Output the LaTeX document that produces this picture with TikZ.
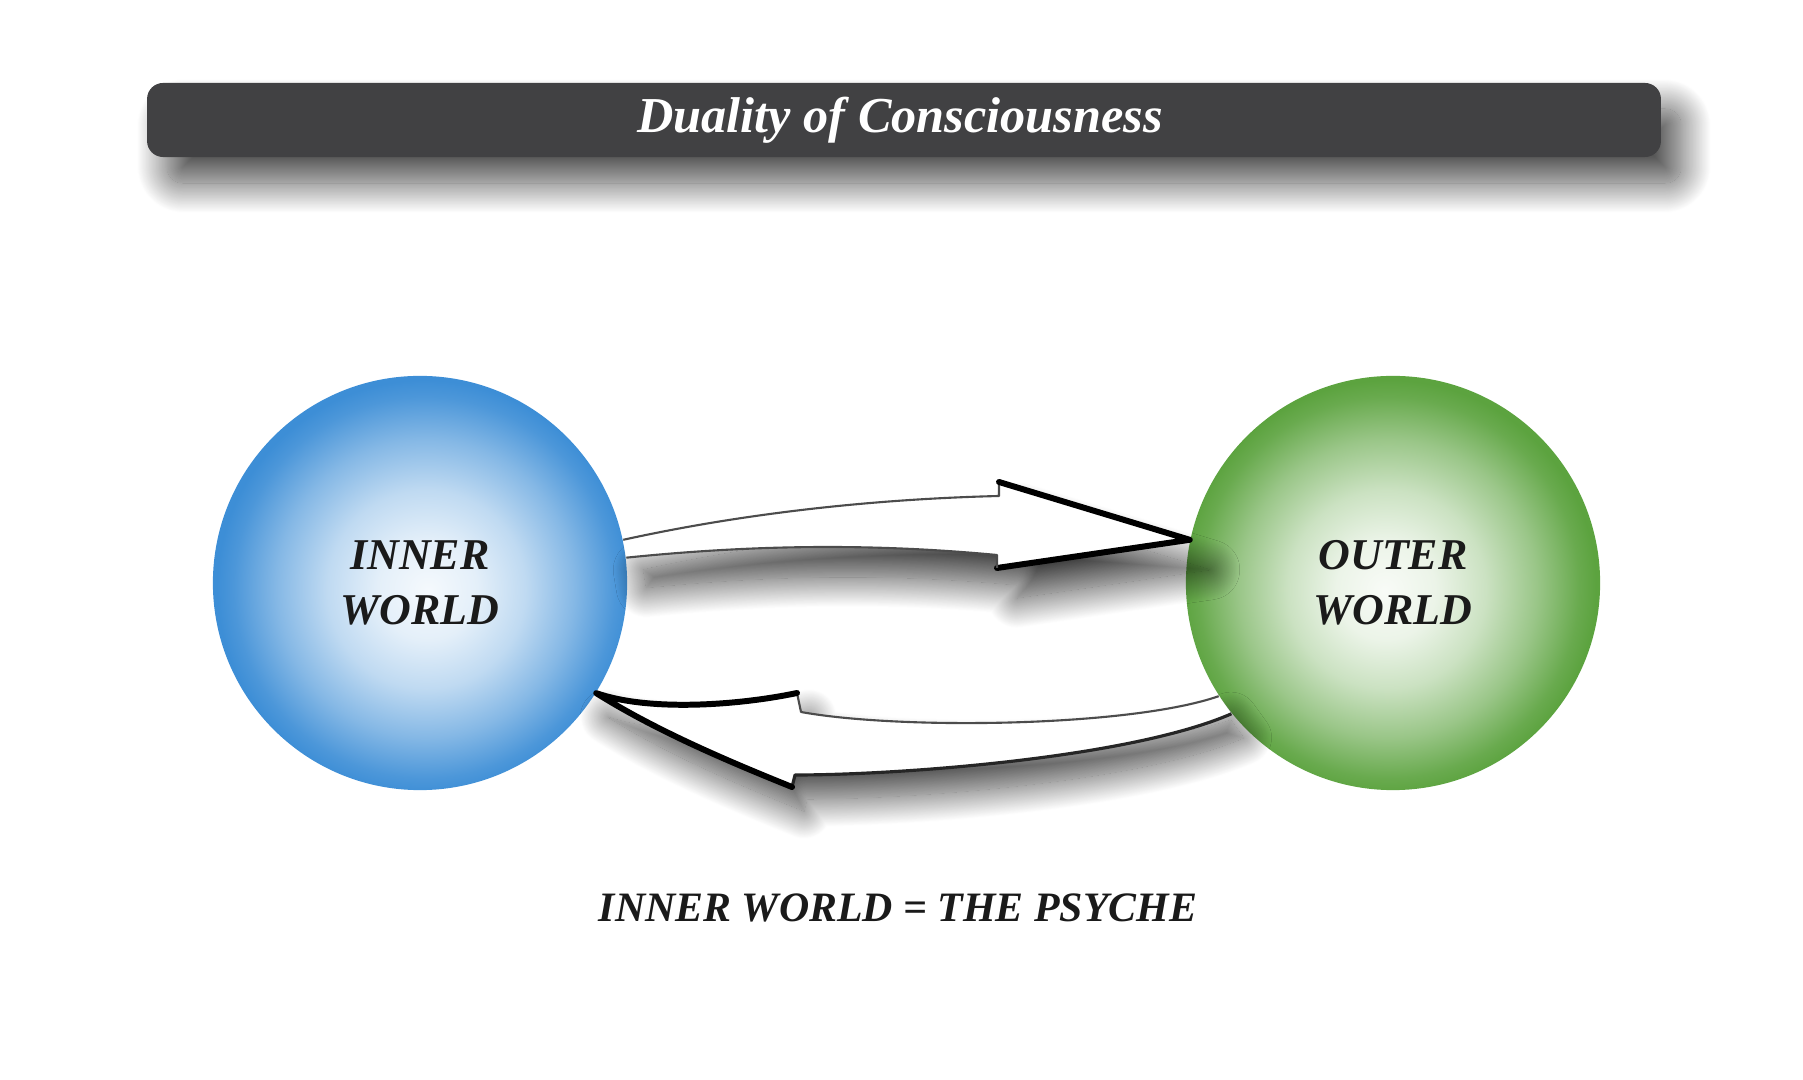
\documentclass[tikz,border=0pt]{standalone}
\usepackage{fontspec}
\setmainfont{Liberation Serif}
\usetikzlibrary{shadows.blur}
\definecolor{barc}{HTML}{414143}
\definecolor{bluec}{HTML}{3D8ED6}
\definecolor{greenc}{HTML}{5CA33F}
\definecolor{inkc}{HTML}{1A1A1A}
\pgfdeclareradialshading{blueball}{\pgfpoint{1bp}{-1bp}}{color(0bp)=(bluec!5!white); color(6bp)=(bluec!14!white); color(12bp)=(bluec!33!white); color(18bp)=(bluec!63!white); color(23bp)=(bluec!92!white); color(25bp)=(bluec); color(50bp)=(bluec)}
\pgfdeclareradialshading{greenball}{\pgfpoint{-1bp}{-1bp}}{color(0bp)=(greenc!4!white); color(6bp)=(greenc!12!white); color(12bp)=(greenc!32!white); color(18bp)=(greenc!62!white); color(23bp)=(greenc!92!white); color(25bp)=(greenc); color(50bp)=(greenc)}
\tikzset{
  ball/.style={circle, minimum size=4.14cm, inner sep=0pt, align=center, text=inkc,
    font=\fontsize{12.5}{15.6}\selectfont\bfseries\itshape},
  thinedge/.style={draw=black!70, line width=0.6pt, line join=round},
  thickedge/.style={draw=black, line width=1.7pt, line join=round, line cap=round},
  midedge/.style={draw=black!85, line width=0.9pt, line join=round},
}
\begin{document}
\begin{tikzpicture}[x=0.01cm, y=-0.01cm]
\useasboundingbox (0,0) rectangle (1803,1080);

% title bar
\node[fill=barc, rounded corners=0.16cm, minimum width=15.13cm, minimum height=0.74cm, inner sep=0pt,
  blur shadow={shadow xshift=0.2cm, shadow yshift=-0.26cm, shadow blur radius=0.3cm, shadow blur steps=40, shadow opacity=70}] (bar) at (904,120) {};
\node[anchor=base, text=white, inner sep=0pt, font=\fontsize{14.3}{17}\selectfont\bfseries\itshape] (title) at (900,133) {Duality of Consciousness};

% circles
\node[ball, shade, shading=blueball] (inner) at (420,583) {INNER\\WORLD};
\node[ball, shade, shading=greenball] (outer) at (1393,583) {OUTER\\WORLD};

% top arrow (inner -> outer)
\coordinate (a1t1) at (inner.12.8);
\coordinate (a1t2) at (inner.7.2);
\coordinate (a1s1) at (999,496);
\coordinate (a1h1) at (999,482);
\coordinate (a1tip) at (outer.168.6);
\coordinate (a1h2) at (997,568);
\coordinate (a1s2) at (997,555);
\fill[white, blur shadow={shadow xshift=0.2cm, shadow yshift=-0.3cm, shadow blur radius=0.3cm, shadow blur steps=40, shadow opacity=75}]
  (a1t1) .. controls (745,513) and (875,499) .. (a1s1) -- (a1h1) -- (a1tip) -- (a1h2) -- (a1s2)
  .. controls (870,543) and (750,545) .. (a1t2) -- cycle;
\draw[thinedge] (a1t1) .. controls (745,513) and (875,499) .. (a1s1) -- (a1h1);
\draw[thickedge] (a1h1) -- (a1tip) -- (a1h2);
\draw[thinedge] (a1h2) -- (a1s2) .. controls (870,543) and (750,545) .. (a1t2);

% bottom arrow (outer -> inner)
\coordinate (a2tip) at (inner.-32);
\coordinate (a2h1) at (797,693);
\coordinate (a2s1) at (801,712);
\coordinate (a2e1) at (outer.213);
\coordinate (a2e2) at (outer.219);
\coordinate (a2s2) at (795,775);
\coordinate (a2h2) at (792,787);
\fill[white, blur shadow={shadow xshift=0.12cm, shadow yshift=-0.24cm, shadow blur radius=0.28cm, shadow blur steps=40, shadow opacity=70}]
  (a2tip) .. controls (650,712) and (740,705) .. (a2h1) -- (a2s1)
  .. controls (900,730) and (1130,727) .. (a2e1) -- (a2e2)
  .. controls (1130,758) and (900,775) .. (a2s2) -- (a2h2)
  .. controls (725,760) and (655,730) .. (a2tip) -- cycle;
\draw[thinedge] (a2h1) -- (a2s1) .. controls (900,730) and (1130,727) .. (a2e1);
\draw[midedge] (a2e2) .. controls (1130,758) and (900,775) .. (a2s2) -- (a2h2);
\draw[thickedge] (a2h2) .. controls (725,760) and (655,730) .. (a2tip)
  .. controls (650,712) and (740,705) .. (a2h1);

% caption
\node[anchor=base, inner sep=0pt, text=inkc, font=\fontsize{11.9}{15}\selectfont\bfseries\itshape] (eq) at (898,922) {INNER WORLD = THE PSYCHE};
\end{tikzpicture}
\end{document}
